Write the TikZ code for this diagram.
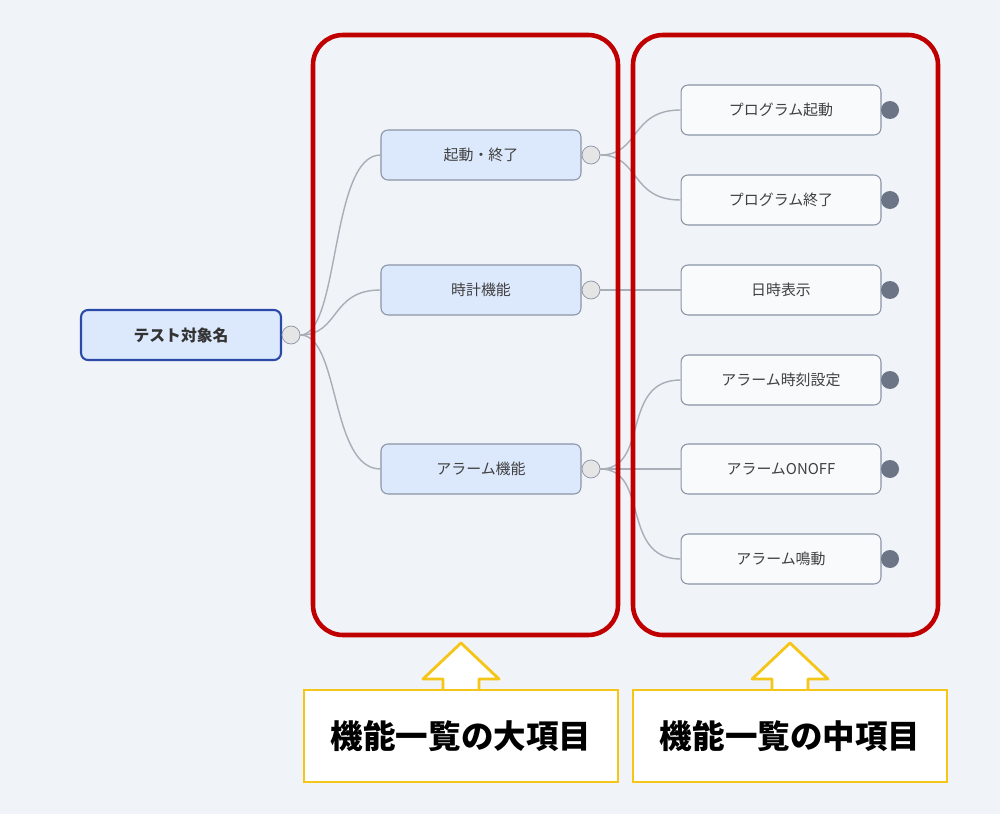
\documentclass[tikz,border=0pt]{standalone}
\usepackage{fontspec}
\setmainfont{Noto Sans CJK JP}
\definecolor{bg}{HTML}{F0F3F8}
\definecolor{rootfill}{HTML}{DCE8FB}
\definecolor{rootline}{HTML}{2B4AA8}
\definecolor{boxline}{HTML}{8A94A6}
\definecolor{wire}{HTML}{A8AEB8}
\definecolor{knob}{HTML}{6B7585}
\definecolor{mark}{HTML}{C00000}
\definecolor{note}{HTML}{F5C518}
\begin{document}
\begin{tikzpicture}[x=0.02cm,y=-0.02cm]
\tikzstyle{root}=[draw=rootline, fill=rootfill, line width=1.2pt, rounded corners=4pt, minimum width=4cm, minimum height=1cm, font=\bfseries\fontsize{9}{10}\selectfont, text=black!80]
\tikzstyle{major}=[draw=boxline, fill=rootfill, line width=0.6pt, rounded corners=4pt, minimum width=4cm, minimum height=1cm, font=\fontsize{8.5}{10}\selectfont, text=black!75]
\tikzstyle{minor}=[major, fill=white!60!bg]
\tikzstyle{joint}=[circle, draw=boxline, fill=black!10, minimum size=0.36cm, inner sep=0pt]
\tikzstyle{tip}=[circle, fill=knob, minimum size=0.36cm, inner sep=0pt]
\tikzstyle{link}=[draw=wire, line width=0.8pt]
\tikzstyle{frame}=[draw=mark, line width=2.6pt, rounded corners=0.6cm]
\tikzstyle{caption}=[draw=note, fill=white, line width=1.6pt, minimum width=6.28cm, minimum height=1.84cm, font=\bfseries\fontsize{18.5}{22}\selectfont]

\fill[bg] (0,0) rectangle (1000,814);

\node[root] (T) at (181,335) {テスト対象名};
\node[joint] (t) at (291,335) {};

\node[major] (A) at (481,155) {起動・終了};
\node[major] (B) at (481,290) {時計機能};
\node[major] (C) at (481,469) {アラーム機能};
\node[joint] (a) at (591,155) {};
\node[joint] (b) at (591,290) {};
\node[joint] (c) at (591,469) {};

\node[minor] (A1) at (781,110) {プログラム起動};
\node[minor] (A2) at (781,200) {プログラム終了};
\node[minor] (B1) at (781,290) {日時表示};
\node[minor] (C1) at (781,380) {アラーム時刻設定};
\node[minor] (C2) at (781,469) {アラームONOFF};
\node[minor] (C3) at (781,559) {アラーム鳴動};
\foreach \n/\y in {A1/110,A2/200,B1/290,C1/380,C2/469,C3/559}
  \node[tip] (\n k) at (890,\y) {};

\draw[link] (t.east) .. controls (340,335) and (330,155) .. (A.west);
\draw[link] (t.east) .. controls (340,335) and (330,290) .. (B.west);
\draw[link] (t.east) .. controls (340,335) and (330,469) .. (C.west);
\draw[link] (a.east) .. controls (640,155) and (630,110) .. (A1.west);
\draw[link] (a.east) .. controls (640,155) and (630,200) .. (A2.west);
\draw[link] (b.east) -- (B1.west);
\draw[link] (c.east) .. controls (650,469) and (620,380) .. (C1.west);
\draw[link] (c.east) -- (C2.west);
\draw[link] (c.east) .. controls (650,469) and (620,559) .. (C3.west);

\draw[frame] (313,35) rectangle (618,635);
\draw[frame] (633,35) rectangle (938,635);

\foreach \x/\lab in {461/大,790/中}{
  \draw[note, fill=white, line width=1.6pt, line join=round]
    (\x-18,690) -- (\x-18,679) -- (\x-38,679) -- (\x,643) -- (\x+38,679)
    -- (\x+18,679) -- (\x+18,690);
  \node[caption] (cap\lab) at (\x,736) {機能一覧の\lab 項目};
}
\end{tikzpicture}
\end{document}
